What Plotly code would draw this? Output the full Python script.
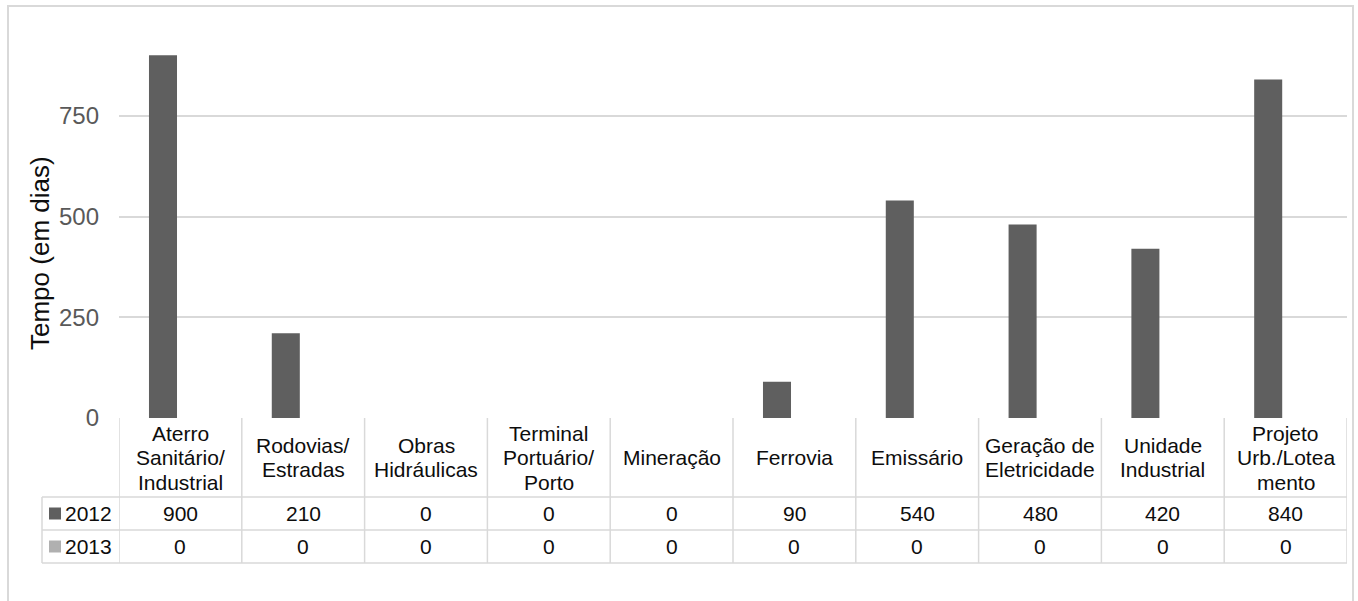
import plotly.graph_objects as go

# --- data -----------------------------------------------------------------
categories = [
    "Aterro<br>Sanitário/<br>Industrial",
    "Rodovias/<br>Estradas",
    "Obras<br>Hidráulicas",
    "Terminal<br>Portuário/<br>Porto",
    "Mineração",
    "Ferrovia",
    "Emissário",
    "Geração de<br>Eletricidade",
    "Unidade<br>Industrial",
    "Projeto<br>Urb./Lotea<br>mento",
]
series_names = ["2012", "2013"]
values_2012 = [900, 210, 0, 0, 0, 90, 540, 480, 420, 840]
values_2013 = [0, 0, 0, 0, 0, 0, 0, 0, 0, 0]
y_ticks = [0, 250, 500, 750]
y_title = "Tempo (em dias)"

# --- styling / geometry -----------------------------------------------------
W, H = 1358, 601
PLOT_L, PLOT_R = 119, 1347          # plot area left/right (px)
PLOT_T, PLOT_B = 15, 418            # plot area top/bottom (px)
Y_MAX = 1000
HEADER_B, ROW1_B, ROW2_B = 497, 530, 563   # table row bottoms (px)
LEGEND_L = 42                       # left edge of the series-name column (px)
LINE_H = 24.5                       # line spacing inside header cells (px)

COLORS = {"2012": "#5f5f5f", "2013": "#b0b0b0"}
GRID = "#d9d9d9"
FONT = "Liberation Sans, Arial, sans-serif"
TXT = "#0d0d0d"


def pxx(px):
    return (px - PLOT_L) / (PLOT_R - PLOT_L)


def pxy(py):
    return (PLOT_B - py) / (PLOT_B - PLOT_T)


fig = go.Figure()
for name, vals in zip(series_names, [values_2012, values_2013]):
    fig.add_trace(go.Bar(
        x=categories, y=vals, name=name,
        marker=dict(color=COLORS[name], line=dict(width=0)),
        showlegend=False,
    ))

shapes = []
annotations = []

# outer chart border
shapes.append(dict(type="rect", xref="paper", yref="paper",
                   x0=pxx(8), x1=pxx(1353), y0=pxy(6), y1=pxy(620),
                   line=dict(color=GRID, width=2), fillcolor="rgba(0,0,0,0)",
                   layer="below"))

# data table: vertical borders at category boundaries
n = len(categories)
for i in range(n + 1):
    shapes.append(dict(type="line", xref="x", yref="paper",
                       x0=i - 0.5, x1=i - 0.5, y0=0, y1=pxy(ROW2_B),
                       line=dict(color=GRID, width=1.5)))
# left border of series-name column
shapes.append(dict(type="line", xref="paper", yref="paper",
                   x0=pxx(LEGEND_L), x1=pxx(LEGEND_L),
                   y0=pxy(HEADER_B), y1=pxy(ROW2_B),
                   line=dict(color=GRID, width=1.5)))
# horizontal borders
for yb in (HEADER_B, ROW1_B, ROW2_B):
    shapes.append(dict(type="line", xref="paper", yref="paper",
                       x0=pxx(LEGEND_L), x1=1, y0=pxy(yb), y1=pxy(yb),
                       line=dict(color=GRID, width=1.5)))

# header cells: category names, one annotation per line
header_mid = (PLOT_B + HEADER_B) / 2
for cat in categories:
    lines = cat.split("<br>")
    k = len(lines)
    for j, ln in enumerate(lines):
        cy = header_mid + (j - (k - 1) / 2) * LINE_H
        annotations.append(dict(x=cat, xref="x", y=pxy(cy), yref="paper",
                                text=ln, showarrow=False,
                                xanchor="center", yanchor="middle",
                                font=dict(family=FONT, size=21, color=TXT)))

# value rows with legend keys
row_mids = [(HEADER_B + ROW1_B) / 2, (ROW1_B + ROW2_B) / 2]
for name, vals, cy in zip(series_names, [values_2012, values_2013], row_mids):
    shapes.append(dict(type="rect", xref="paper", yref="paper",
                       x0=pxx(49), x1=pxx(61), y0=pxy(cy - 6), y1=pxy(cy + 6),
                       line=dict(width=0), fillcolor=COLORS[name]))
    annotations.append(dict(x=pxx(63), xref="paper", y=pxy(cy), yref="paper",
                            text=name, showarrow=False,
                            xanchor="left", yanchor="middle",
                            font=dict(family=FONT, size=21, color=TXT)))
    for cat, v in zip(categories, vals):
        annotations.append(dict(x=cat, xref="x", y=pxy(cy), yref="paper",
                                text=str(v), showarrow=False,
                                xanchor="center", yanchor="middle",
                                font=dict(family=FONT, size=21, color=TXT)))

# rotated axis title
annotations.append(dict(x=pxx(40), xref="paper", y=pxy(253), yref="paper",
                        text=y_title, textangle=-90, showarrow=False,
                        xanchor="center", yanchor="middle",
                        font=dict(family=FONT, size=26, color=TXT)))

fig.update_layout(
    width=W, height=H,
    margin=dict(l=PLOT_L, r=W - PLOT_R, t=PLOT_T, b=H - PLOT_B, pad=0),
    paper_bgcolor="white", plot_bgcolor="white",
    barmode="group", bargap=0.433, bargroupgap=0.195,
    shapes=shapes, annotations=annotations,
    font=dict(family=FONT),
    xaxis=dict(showticklabels=False, showgrid=False, showline=False,
               zeroline=False, ticks="", range=[-0.5, n - 0.5]),
    yaxis=dict(range=[0, Y_MAX], tickvals=y_ticks, showgrid=True,
               gridcolor=GRID, gridwidth=1.5, zeroline=False, showline=False,
               ticks="", ticklabelstandoff=19,
               tickfont=dict(family=FONT, size=24, color="#595959")),
)

fig.write_html("out.html")
